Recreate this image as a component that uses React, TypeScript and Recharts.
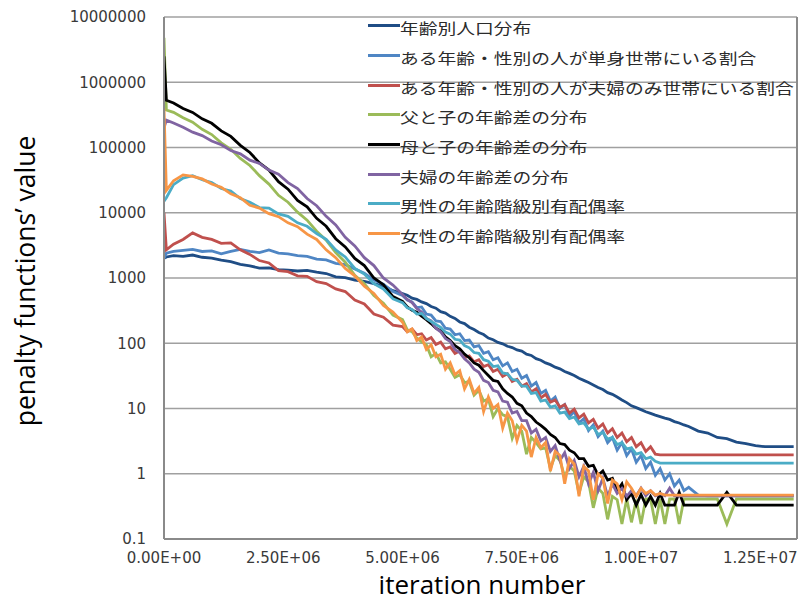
import { LineChart, Line, XAxis, YAxis, CartesianGrid, Legend, ReferenceLine } from 'recharts';

// iteration count, in millions (denser where the runs are noisiest)
const ITER_M = [
  0, 0.05, 0.2, 0.4, 0.6, 0.8, 1.0, 1.2, 1.4, 1.6, 1.8, 2.0, 2.2, 2.4, 2.6, 2.8, 3.0, 3.2, 3.4, 3.6,
  3.8, 4.0, 4.2, 4.4, 4.6, 4.8,
  5.0, 5.1, 5.2, 5.3, 5.4, 5.5, 5.6, 5.7, 5.8, 5.9,
  6.0, 6.1, 6.2, 6.3, 6.4, 6.5, 6.6, 6.7, 6.8, 6.9,
  7.0, 7.1, 7.2, 7.3, 7.4, 7.5, 7.6, 7.7, 7.8, 7.9,
  8.0, 8.1, 8.2, 8.3, 8.4, 8.5, 8.6, 8.7, 8.8, 8.9,
  9.0, 9.1, 9.2, 9.3, 9.4, 9.5, 9.6, 9.7, 9.8, 9.9,
  10.0, 10.1, 10.2, 10.3, 10.4, 10.5, 10.6, 10.7, 10.8, 10.9,
  11.0, 11.2, 11.4, 11.6, 11.8, 12.0, 12.2, 12.4, 12.6, 12.8, 13.0, 13.2,
];

const POP_BY_AGE = [
  2000, 2100, 2200, 2150, 2250, 2080, 2020, 1880, 1780, 1620, 1530, 1420, 1430, 1340, 1320, 1280, 1310, 1230, 1170, 1040,
  1010, 930, 890, 820, 750, 640,
  575, 545, 490, 470, 430, 405, 365, 345, 305, 290,
  258, 240, 212, 200, 176, 162, 146, 136, 120, 113,
  103, 98, 90, 86, 79, 76, 68, 65, 58, 55,
  50, 47, 43, 40.5, 37, 34.5, 32, 29, 27, 25,
  23, 21, 19.5, 17.5, 16.5, 15, 13.5, 12.3, 11, 10.3,
  9.6, 8.9, 8.4, 7.9, 7.5, 7.1, 6.8, 6.3, 6.0, 5.6,
  5.3, 4.5, 4.2, 3.6, 3.45, 3.05, 2.9, 2.7, 2.6, 2.6, 2.6, 2.6,
];

const SINGLE_HH = [
  2000, 2400, 2550, 2650, 2750, 2550, 2600, 2350, 2550, 2750, 2550, 2450, 2700, 2400, 2350, 2200, 2150, 1950, 1900, 1680,
  1600, 1380, 1180, 930, 800, 620,
  540, 460, 430, 350, 360, 280, 270, 220, 215, 170,
  165, 135, 140, 110, 112, 88, 92, 70, 74, 56,
  60, 45, 50, 37, 40, 29, 32, 22, 25, 17,
  19, 13, 15, 10, 11.5, 7.5, 9, 6, 7, 4.6,
  5.6, 3.7, 4.5, 3.0, 3.6, 2.3, 3.0, 1.9, 2.4, 1.5,
  1.9, 1.2, 1.5, 0.95, 1.2, 0.8, 1.0, 0.65, 0.8, 0.55,
  0.62, 0.47, 0.46, 0.46, 0.46, 0.46, 0.46, 0.46, 0.46, 0.46, 0.46, 0.46,
];

const COUPLE_HH = [
  10000, 2700, 3300, 3900, 4900, 4200, 3900, 3400, 3450, 2700, 2300, 1850, 1700, 1300, 1250, 1080, 1060, 880, 820, 680,
  620, 460, 400, 280, 250, 190,
  180, 150, 165, 135, 140, 112, 122, 96, 104, 82,
  88, 70, 76, 60, 64, 52, 56, 44, 47, 37,
  40, 31, 34, 26, 28, 22, 24, 18, 20, 14.5,
  16.5, 12.5, 13.5, 10.5, 11.5, 8.5, 9.8, 7.2, 8.2, 6.0,
  6.8, 5.0, 5.8, 4.2, 4.9, 3.6, 4.2, 3.1, 3.6, 2.6,
  3.0, 2.2, 2.6, 2.0, 1.95, 1.95, 1.95, 1.95, 1.95, 1.95,
  1.95, 1.95, 1.95, 1.95, 1.95, 1.95, 1.95, 1.95, 1.95, 1.95, 1.95, 1.95,
];

const FATHER_CHILD = [
  4800000, 375000, 345000, 285000, 245000, 190000, 158000, 118000, 94000, 68000, 53000, 37000, 27500, 18500, 14500, 10200, 7700, 5200, 3800, 2450,
  1750, 1100, 820, 540, 410, 270,
  230, 160, 150, 120, 105, 95, 62, 70, 50, 52,
  40, 30, 33, 25, 26, 16, 19, 13, 14, 7.5,
  10, 8, 7.5, 3.5, 5.5, 4.5, 2.0, 3.6, 3.0, 2.4,
  2.5, 1.2, 1.9, 1.6, 0.9, 1.3, 1.1, 0.5, 0.9, 0.75,
  0.3, 0.6, 0.5, 0.2, 0.45, 0.4, 0.17, 0.41, 0.18, 0.4,
  0.17, 0.41, 0.41, 0.17, 0.41, 0.17, 0.41, 0.41, 0.17, 0.41,
  0.41, 0.41, 0.41, 0.41, 0.17, 0.41, 0.41, 0.41, 0.41, 0.41, 0.41, 0.41,
];

const MOTHER_CHILD = [
  2500000, 530000, 480000, 395000, 345000, 275000, 235000, 180000, 148000, 108000, 84000, 58000, 45000, 30000, 23000, 15500, 12300, 8200, 6200, 4000,
  3000, 2000, 1550, 1000, 790, 520,
  440, 360, 320, 300, 260, 230, 200, 170, 155, 125,
  110, 92, 82, 68, 60, 50, 46, 38, 32, 27,
  26, 20, 17, 15, 12, 11, 8.5, 7.5, 6.2, 5.5,
  4.8, 4.0, 3.6, 2.9, 2.8, 2.3, 2.1, 1.7, 1.7, 1.3,
  1.35, 0.95, 1.1, 0.8, 0.85, 0.55, 0.7, 0.4, 0.5, 0.33,
  0.48, 0.33, 0.45, 0.33, 0.5, 0.33, 0.33, 0.33, 0.52, 0.33,
  0.33, 0.33, 0.33, 0.33, 0.52, 0.33, 0.33, 0.33, 0.33, 0.33, 0.33, 0.33,
];

const SPOUSE_GAP = [
  200000, 262000, 238000, 205000, 172000, 152000, 126000, 110000, 90000, 80000, 64000, 57000, 45000, 39000, 29000, 23500, 16500, 12800, 8800, 6500,
  4200, 3100, 2050, 1550, 1000, 780,
  560, 470, 420, 340, 300, 240, 220, 170, 150, 118,
  106, 80, 72, 58, 50, 40, 36, 27, 25, 19,
  18, 13, 12.5, 8.5, 9, 6.5, 6.5, 4.2, 4.8, 3.2,
  3.6, 2.2, 2.7, 1.6, 2.1, 1.2, 1.6, 0.9, 1.3, 0.7,
  1.05, 0.55, 0.85, 0.45, 0.7, 0.5, 0.6, 0.45, 0.55, 0.46,
  0.6, 0.46, 0.55, 0.46, 0.5, 0.46, 0.6, 0.46, 0.46, 0.46,
  0.46, 0.46, 0.46, 0.46, 0.46, 0.46, 0.46, 0.46, 0.46, 0.46, 0.46, 0.46,
];

const MARRIED_MALE = [
  15000, 17000, 27000, 34000, 37000, 32000, 29000, 23500, 21500, 16500, 14500, 12000, 11800, 9600, 8800, 7000, 6200, 4800, 3900, 2700,
  2100, 1400, 1150, 820, 680, 480,
  420, 350, 330, 280, 285, 240, 215, 195, 175, 148,
  138, 115, 112, 92, 85, 72, 70, 56, 53, 44,
  45, 35, 34, 28, 27, 22, 22, 17, 17.5, 13,
  13.5, 10.5, 11, 8.5, 8.8, 7, 7.4, 5.8, 6.0, 4.8,
  5.2, 4.0, 4.3, 3.4, 3.6, 2.8, 3.0, 2.4, 2.5, 2.0,
  2.1, 1.7, 1.8, 1.55, 1.46, 1.46, 1.46, 1.46, 1.46, 1.46,
  1.46, 1.46, 1.46, 1.46, 1.46, 1.46, 1.46, 1.46, 1.46, 1.46, 1.46, 1.46,
];

const MARRIED_FEMALE = [
  400000, 22000, 31000, 38000, 36000, 33000, 27500, 24500, 19500, 17000, 13000, 11800, 9700, 8700, 7000, 6100, 4700, 3900, 2700, 2050,
  1400, 1080, 750, 580, 380, 300,
  210, 150, 165, 110, 125, 80, 95, 62, 68, 40,
  50, 33, 38, 20, 28, 17, 21, 9, 15, 10,
  11.5, 5, 8.5, 6.5, 3.2, 5.5, 4.5, 1.8, 3.6, 2.5,
  3.0, 1.1, 2.2, 1.9, 0.7, 1.7, 1.4, 0.45, 1.3, 1.1,
  0.4, 1.0, 0.85, 0.35, 0.8, 0.7, 0.4, 0.75, 0.6, 0.45,
  0.6, 0.5, 0.55, 0.47, 0.5, 0.47, 0.47, 0.47, 0.47, 0.47,
  0.47, 0.47, 0.47, 0.47, 0.47, 0.47, 0.47, 0.47, 0.47, 0.47, 0.47, 0.47,
];

const SERIES = [
  { key: 'pop', name: '年齢別人口分布', color: '#1f4d85', values: POP_BY_AGE },
  { key: 'single', name: 'ある年齢・性別の人が単身世帯にいる割合', color: '#4f86c4', values: SINGLE_HH },
  { key: 'couple', name: 'ある年齢・性別の人が夫婦のみ世帯にいる割合', color: '#c0504d', values: COUPLE_HH },
  { key: 'father', name: '父と子の年齢差の分布', color: '#9bbb59', values: FATHER_CHILD },
  { key: 'mother', name: '母と子の年齢差の分布', color: '#000000', values: MOTHER_CHILD },
  { key: 'spouse', name: '夫婦の年齢差の分布', color: '#8064a2', values: SPOUSE_GAP },
  { key: 'male', name: '男性の年齢階級別有配偶率', color: '#4bacc6', values: MARRIED_MALE },
  { key: 'female', name: '女性の年齢階級別有配偶率', color: '#f79646', values: MARRIED_FEMALE },
];

const X_TICKS = [0, 2500000, 5000000, 7500000, 10000000, 12500000];
const Y_TICKS = [0.1, 1, 10, 100, 1000, 10000, 100000, 1000000, 10000000];
const X_MAX = 13270000;

const data = ITER_M.map((m, i) => {
  const row: Record<string, number> = { iter: m * 1000000 };
  SERIES.forEach((s) => {
    row[s.key] = s.values[i];
  });
  return row;
});

// Excel-style scientific label: 2.50E+06
const sci = (v: number) => {
  const [mant, exp] = v.toExponential(2).split('e');
  const e = Number(exp);
  return `${mant}E${e < 0 ? '-' : '+'}${String(Math.abs(e)).padStart(2, '0')}`;
};

const tickStyle = { fontFamily: '"DejaVu Sans"', fontSize: 15, fill: '#3a3a3a' };
const titleFont = '"Open Sans"';

const LegendBox = () => (
  <div style={{ fontFamily: '"Noto Sans CJK JP"', fontSize: 15, color: '#2b2b2b', lineHeight: 1 }}>
    {SERIES.map((s) => (
      <div key={s.key} style={{ display: 'flex', alignItems: 'center', height: 29.7 }}>
        <span style={{ display: 'inline-block', width: 32, height: 3, background: s.color }} />
        <span
          style={{
            display: 'inline-block',
            whiteSpace: 'nowrap',
            transform: 'scaleX(1.25)',
            transformOrigin: 'left center',
            marginTop: 4,
          }}
        >
          {s.name}
        </span>
      </div>
    ))}
  </div>
);

export default function App() {
  return (
    <div style={{ position: 'absolute', left: 0, top: 0, background: '#fff' }}>
      <LineChart width={798} height={601} data={data} margin={{ top: 17, right: 1, bottom: 0, left: 0 }}>
        <CartesianGrid vertical={false} stroke="#a0a0a0" strokeWidth={1.5} />
        <XAxis
          type="number"
          dataKey="iter"
          domain={[0, X_MAX]}
          ticks={X_TICKS}
          tickFormatter={sci}
          height={62}
          stroke="#8a8a8a"
          strokeWidth={2}
          tickSize={0}
          tickMargin={13}
          tick={tickStyle}
          allowDataOverflow
          label={{
            content: () => (
              <text x={482} y={594} textAnchor="middle" fontFamily={titleFont} fontSize={26} fill="#000">
                iteration number
              </text>
            ),
          }}
        />
        <YAxis
          scale="log"
          domain={[0.1, 10000000]}
          ticks={Y_TICKS}
          tickFormatter={(v: number) => String(v)}
          width={164}
          stroke="#8a8a8a"
          strokeWidth={2}
          tickSize={0}
          tickMargin={18}
          tick={tickStyle}
          allowDataOverflow
          label={{
            content: () => (
              <text
                x={35}
                y={281}
                transform="rotate(-90 35 281)"
                textAnchor="middle"
                fontFamily={titleFont}
                fontSize={26.5}
                fill="#000"
              >
                penalty functions’ value
              </text>
            ),
          }}
        />
        <ReferenceLine x={X_MAX} stroke="#8a8a8a" strokeWidth={2} />
        <Legend
          layout="vertical"
          align="center"
          verticalAlign="middle"
          wrapperStyle={{ left: 368, top: 11, width: 430 }}
          content={<LegendBox />}
        />
        {SERIES.map((s) => (
          <Line
            key={s.key}
            dataKey={s.key}
            name={s.name}
            stroke={s.color}
            strokeWidth={2.8}
            dot={false}
            activeDot={false}
            type="linear"
            isAnimationActive={false}
          />
        ))}
      </LineChart>
    </div>
  );
}
